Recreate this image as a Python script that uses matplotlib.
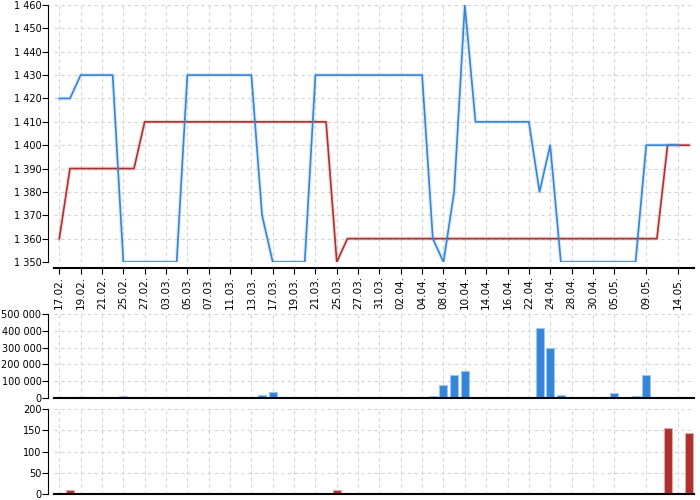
import matplotlib.pyplot as plt
from matplotlib.ticker import FuncFormatter

# trading days, index based x axis
tick_pos = [0, 2, 4, 6, 8, 10, 12, 14, 16, 18, 20, 22, 24, 26, 28, 30, 32, 34,
            36, 38, 40, 42, 44, 46, 48, 50, 52, 55, 58]
tick_labels = ['17.02.', '19.02.', '21.02.', '25.02.', '27.02.', '03.03.', '05.03.',
               '07.03.', '11.03.', '13.03.', '17.03.', '19.03.', '21.03.', '25.03.',
               '27.03.', '31.03.', '02.04.', '04.04.', '08.04.', '10.04.', '14.04.',
               '16.04.', '22.04.', '24.04.', '28.04.', '30.04.', '05.05.', '09.05.',
               '14.05.']

price_blue = [1420, 1420, 1430, 1430, 1430, 1430, 1350, 1350, 1350, 1350,
              1350, 1350, 1430, 1430, 1430, 1430, 1430, 1430, 1430, 1370,
              1350, 1350, 1350, 1350, 1430, 1430, 1430, 1430, 1430, 1430,
              1430, 1430, 1430, 1430, 1430, 1360, 1350, 1380, 1460, 1410,
              1410, 1410, 1410, 1410, 1410, 1380, 1400, 1350, 1350, 1350,
              1350, 1350, 1350, 1350, 1350, 1400, 1400, 1400, 1400]
price_red = [1360, 1390, 1390, 1390, 1390, 1390, 1390, 1390, 1410, 1410,
             1410, 1410, 1410, 1410, 1410, 1410, 1410, 1410, 1410, 1410,
             1410, 1410, 1410, 1410, 1410, 1410, 1350, 1360, 1360, 1360,
             1360, 1360, 1360, 1360, 1360, 1360, 1360, 1360, 1360, 1360,
             1360, 1360, 1360, 1360, 1360, 1360, 1360, 1360, 1360, 1360,
             1360, 1360, 1360, 1360, 1360, 1360, 1360, 1400, 1400, 1400]
volume_blue = [2000, 0, 10000, 0, 0, 3000, 14000, 0, 0, 0,
               0, 0, 2000, 0, 0, 0, 0, 0, 0, 17000,
               35000, 0, 0, 0, 3000, 0, 0, 0, 0, 0,
               0, 0, 0, 0, 0, 15000, 77000, 140000, 160000, 3000,
               0, 0, 0, 0, 0, 415000, 298000, 20000, 0, 0,
               0, 0, 30000, 0, 14000, 136000, 0, 0, 0, 0]
volume_red = [0, 10, 0, 0, 0, 0, 0, 0, 0, 0,
              0, 0, 0, 0, 0, 0, 0, 0, 0, 0,
              0, 0, 0, 0, 0, 0, 10, 0, 0, 0,
              0, 0, 0, 0, 0, 0, 0, 0, 0, 0,
              0, 0, 0, 0, 0, 0, 0, 0, 0, 0,
              0, 0, 0, 0, 0, 0, 0, 157, 0, 143]

BLUE = '#3584d8'
RED = '#ad3030'

fig = plt.figure(figsize=(7, 5), dpi=100)
ax1 = fig.add_axes([0.0771, 0.476, 0.9147, 0.514])
ax2 = fig.add_axes([0.0771, 0.2034, 0.9147, 0.1692])
ax3 = fig.add_axes([0.0771, 0.012, 0.9147, 0.1694])

sep = FuncFormatter(lambda v, p: '{:,.0f}'.format(v).replace(',', ' '))

for ax in (ax1, ax2, ax3):
    ax.set_xlim(-0.5, 59.5)
    ax.set_xticks(tick_pos)
    ax.grid(True, color='#d4d4d4', linestyle=(0, (3, 3)), linewidth=0.8)
    ax.set_axisbelow(True)
    for s in ('top', 'right'):
        ax.spines[s].set_visible(False)
    ax.spines['left'].set_position(('outward', 4))
    ax.spines['left'].set_linewidth(0.8)
    ax.spines['bottom'].set_linewidth(1.5)
    ax.yaxis.set_major_formatter(sep)
    ax.tick_params(axis='y', labelsize=7, length=4, width=0.8, pad=1)

# price lines
x_blue = list(range(len(price_blue)))
x_red = list(range(len(price_red)))
ax1.plot(x_red, price_red, color=RED, lw=3, alpha=0.15)
ax1.plot(x_red, price_red, color=RED, lw=1.2)
ax1.plot(x_blue, price_blue, color=BLUE, lw=3, alpha=0.15)
ax1.plot(x_blue, price_blue, color=BLUE, lw=1.2)
ax1.set_ylim(1350, 1460)
ax1.set_yticks(range(1350, 1461, 10))
ax1.spines['bottom'].set_position(('outward', 4))
ax1.set_xticklabels(tick_labels, rotation=90, fontsize=7.5)
ax1.tick_params(axis='x', length=4, width=0.8, pad=2)

# volumes
xv = list(range(len(volume_blue)))
ax2.bar(xv, volume_blue, width=0.75, color=BLUE, edgecolor=(0.6, 0.78, 0.95), linewidth=0.8)
ax2.set_ylim(0, 500000)
ax2.set_yticks(range(0, 500001, 100000))
ax2.tick_params(axis='x', length=0, labelbottom=False)

ax3.bar(xv, volume_red, width=0.75, color=RED, edgecolor=(0.9, 0.65, 0.65), linewidth=0.8)
ax3.set_ylim(0, 200)
ax3.set_yticks(range(0, 201, 50))
ax3.tick_params(axis='x', length=0, labelbottom=False)

fig.savefig('out.png', dpi=100)
